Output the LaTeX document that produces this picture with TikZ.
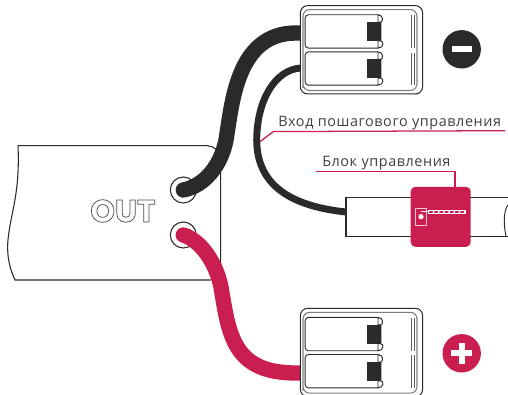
\documentclass[tikz,border=0pt]{standalone}
\usepackage{fontspec}
\setmainfont{Open Sans}[LetterSpace=4.0]
\newfontfamily\outfont{Poppins}[Scale=1]
\usetikzlibrary{positioning}
\usetikzlibrary{calc}
\definecolor{inkblack}{HTML}{2B2A29}
\definecolor{inkred}{HTML}{CB1E50}
\newcommand{\hollow}[1]{\special{pdf:code 1 Tr 0.55 w 0.3 0.3 0.3 RG}#1\special{pdf:code 0 Tr}}
\begin{document}
\begin{tikzpicture}[x=0.75pt, y=-0.75pt]
      \tikzstyle{frame} = [rectangle, draw=inkblack, line width=0.75pt, rounded corners=5.5pt,
                           fill=white, inner sep=0pt, minimum width=91.7pt, minimum height=66.3pt]
      \tikzstyle{slot} = [rectangle, draw=inkblack, line width=0.7pt, rounded corners=2.5pt,
                          inner sep=0pt, minimum width=56.8pt, minimum height=25pt]
      \tikzstyle{latch} = [rectangle, fill=inkblack, inner sep=0pt, minimum width=10.3pt, minimum height=14.2pt]
      \tikzstyle{hairline} = [draw=inkblack!75, line width=0.45pt]
      \tikzstyle{port} = [circle, draw=inkblack, line width=0.8pt, fill=white, inner sep=0pt, minimum size=19.5pt]
      \tikzstyle{wire} = [draw, line width=11.5pt, line cap=round]
      \tikzstyle{leader} = [draw=inkred, line width=0.95pt]
      \tikzstyle{caption} = [anchor=base west, inner sep=0pt, text=inkblack!90, font=\fontsize{10.8pt}{12pt}\selectfont]
      \tikzstyle{badge} = [circle, inner sep=0pt, minimum size=28.8pt]
      \useasboundingbox (0,0) rectangle (508,395);
      % power unit
      \draw[inkblack, line width=0.8pt, fill=white] (18,145.7) -- (207,145.7)
        .. controls (214,145.7) and (220.7,151) .. (220.7,160) -- (220.7,270)
        .. controls (220.7,276) and (217,280) .. (210,280) -- (15,280)
        .. controls (8,265) and (6,250) .. (9,232)
        .. controls (12,210) and (20,190) .. (18,145.7);
      \node[port] (portneg) at (183.3,190) {};
      \node[port] (portpos) at (183.3,235) {};
      \node[inner sep=0pt] (outlabel) at (123,211)
        {\outfont\bfseries\fontsize{23.5pt}{24pt}\selectfont\hollow{OUT}};
      \coordinate (cableend) at (346,212);
      \coordinate (negA) at (300.5,33);
      \coordinate (negB) at (300.5,68);
      \coordinate (posA) at (300.5,373);
      % wires
      \path[wire, inkblack] (portneg.center) .. controls (204,186) and (221,166) .. (226,140)
        .. controls (232,105) and (236,33) .. (296,33) -- (negA);
      \path[wire, inkred] (portpos.center) .. controls (200,240) and (216,262) .. (221,287)
        .. controls (229,335) and (233,373) .. (296,373) -- (posA);
      \draw[inkblack, line width=5.2pt] (negB) .. controls (275,70) and (257,100) .. (256.7,140)
        .. controls (257,185) and (290,206) .. (cableend);
      % terminals
      \foreach \tn/\ty in {neg/0, pos/302.7}{
        \begin{scope}[shift={(0,\ty)}]
          \node[frame] (frame\tn) at (361.5,49.8) {};
          \draw[draw=inkblack!60, line width=0.8pt, rounded corners=5pt]
            (303,88) -- (303,9.6) -- (417,9.6) -- (417,90.5) -- (303,90.5) -- (303,80);
          \node[slot] (slotA\tn) at (343,31.4) {};
          \node[slot] (slotB\tn) at (343,68.5) {};
          \node[latch] (latchA\tn) at (373.9,31.5) {};
          \node[latch] (latchB\tn) at (373.9,68.5) {};
          \foreach \dy in {0,37.1}{
            \draw[inkblack, line width=0.7pt, fill=white]
              (378,14.8+\dy) .. controls (383.5,14.8+\dy) and (383.5,21.8+\dy) .. (380.7,22.2+\dy) -- (378,22.2+\dy) -- cycle;
            \draw[inkblack, line width=0.7pt, fill=white]
              (378,41+\dy) -- (380.7,41+\dy) .. controls (384,41.2+\dy) and (384,48+\dy) .. (378,48+\dy) -- cycle;
            \draw[hairline] (411.6,15.5+\dy) -- (411.6,48+\dy);
            \draw[hairline] (414,15.5+\dy) -- (414,48+\dy);
          }
        \end{scope}
      }
      \node[badge, fill=inkblack] (minus) at (461.7,49.3) {};
      \node[rectangle, fill=white, inner sep=0pt, minimum width=15pt, minimum height=4.6pt] (minusbar) at (minus) {};
      \node[badge, fill=inkred] (plus) at (461.7,353.3) {};
      \node[rectangle, fill=white, inner sep=0pt, minimum width=15.8pt, minimum height=4.8pt] (plusbarA) at (plus) {};
      \node[rectangle, fill=white, inner sep=0pt, minimum width=4.8pt, minimum height=15.8pt] (plusbarB) at (plus) {};
      % control cable
      \draw[inkblack, line width=1pt] (508,197.3) -- (346,197.3) -- (346,236.7) -- (508,236.7);
      \draw[inkblack, line width=0.7pt] (508,205) .. controls (504,210) and (503,222) .. (506,236.7);
      % control unit
      \node[rectangle, fill=inkred, rounded corners=3.5pt, inner sep=0pt, minimum size=45pt] (ctrl) at (440.7,216.8) {};
      \draw[white!75!inkred, line width=0.6pt] (415.7,208.3) rectangle (426.7,225.7);
      \fill[white] (421,216.7) circle (2pt);
      \draw[white, line width=0.6pt] (421,211) -- (428,211);
      \fill[white] (427.5,210) rectangle (466,214);
      \foreach \i in {0,...,6}{
        \fill[inkred] (429.5+\i*5.2,211.2) -- (433+\i*5.2,211.2) -- (432.3+\i*5.2,213) -- (428.8+\i*5.2,213) -- cycle;
      }
      % captions
      \node[caption] (steplabel) at (278,126.7) {Вход пошагового управления};
      \node[caption] (ctrllabel) at (322,167) {Блок управления};
      \coordinate (stepend) at (505,130.7);
      \coordinate (ctrlend) at (315.7,171.3);
      \draw[leader] (260,141.7) -- (273.3,131.6) -- (stepend);
      \draw[leader] (ctrlend) -- (455,171.3) -- (455,187);
\end{tikzpicture}
\end{document}
